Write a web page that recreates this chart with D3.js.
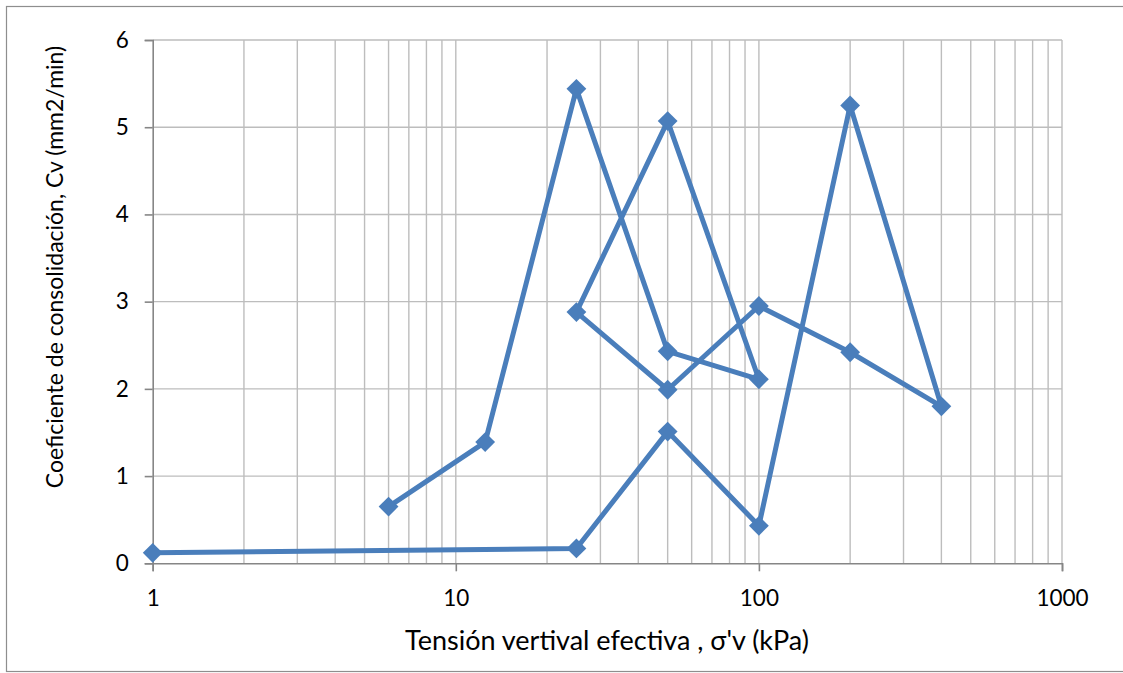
<!DOCTYPE html>
<html>
<head>
<meta charset="utf-8">
<script src="https://cdn.jsdelivr.net/npm/d3@7"></script>
<style>
  html, body { margin: 0; padding: 0; background: #fff; }
  svg { display: block; }
  text { font-family: Lato, "Open Sans", sans-serif; fill: #000; }
</style>
</head>
<body>
<svg id="chart" width="1123" height="673"></svg>
<script>
// Consolidation test readings, in the order they were taken
const stress = [1, 25, 50, 100, 200, 400, 200, 100, 50, 25, 50, 100, 50, 25, 12.5, 6];
const cv = [0.12, 0.17, 1.51, 0.43, 5.25, 1.80, 2.42, 2.95, 1.99, 2.88, 5.07, 2.11, 2.43, 5.44, 1.39, 0.65];
const xTickValues = [1, 10, 100, 1000];
const yTickValues = [0, 1, 2, 3, 4, 5, 6];
const xTitle = "Tensión vertival efectiva , σ'v (kPa)";
const yTitle = "Coeficiente de consolidación, Cv (mm2/min)";

const points = stress.map((s, i) => ({ x: s, y: cv[i] }));

const svg = d3.select("#chart");
const plot = { left: 152.7, right: 1062, top: 40, bottom: 563.3 };

// Chart frame
svg.append("rect")
  .attr("x", 6.5).attr("y", 6.5)
  .attr("width", 1122).attr("height", 665)
  .attr("fill", "none").attr("stroke", "#8e8e8e").attr("stroke-width", 1.2);

const x = d3.scaleLog().domain([1, 1000]).range([plot.left, plot.right]);
const y = d3.scaleLinear().domain([0, 6]).range([plot.bottom, plot.top]);

// Minor + major vertical gridlines (log decades)
const xGrid = [];
for (let d = 1; d < 1000; d *= 10) for (let k = 1; k <= 10; k++) xGrid.push(d * k);
const gridColor = "#bdbdbd";
svg.append("g").selectAll("line").data(Array.from(new Set(xGrid)).filter(v => v > 1)).join("line")
  .attr("x1", d => x(d)).attr("x2", d => x(d))
  .attr("y1", plot.top).attr("y2", plot.bottom)
  .attr("stroke", gridColor).attr("stroke-width", 1.4);

// Horizontal gridlines
svg.append("g").selectAll("line").data(yTickValues.filter(v => v > 0)).join("line")
  .attr("x1", plot.left).attr("x2", plot.right)
  .attr("y1", d => y(d)).attr("y2", d => y(d))
  .attr("stroke", gridColor).attr("stroke-width", 1.4);

// Axes
const axisColor = "#868686";
const xAxis = svg.append("g")
  .attr("transform", `translate(0,${plot.bottom})`)
  .call(d3.axisBottom(x).tickValues(xTickValues).tickFormat(d3.format("d")).tickSize(8).tickPadding(19));
const yAxis = svg.append("g")
  .attr("transform", `translate(${plot.left},0)`)
  .call(d3.axisLeft(y).tickValues(yTickValues).tickFormat(d3.format("d")).tickSize(8).tickPadding(16));
[xAxis, yAxis].forEach(g => {
  g.select(".domain").attr("stroke", axisColor).attr("stroke-width", 1.6);
  g.selectAll(".tick line").attr("stroke", axisColor).attr("stroke-width", 1.6);
  g.selectAll(".tick text").style("font-size", "22.5px").attr("fill", "#000");
});

// Series line
svg.append("path")
  .datum(points)
  .attr("fill", "none")
  .attr("stroke", "#4a7ebb")
  .attr("stroke-width", 5)
  .attr("stroke-linejoin", "round")
  .attr("d", d3.line().x(d => x(d.x)).y(d => y(d.y)));

// Diamond markers
svg.append("g").selectAll("path").data(points).join("path")
  .attr("transform", d => `translate(${x(d.x)},${y(d.y)}) rotate(45)`)
  .attr("d", "M-7,-7H7V7H-7Z")
  .attr("fill", "#4a7ebb");

// Axis titles
svg.append("text")
  .attr("x", 607).attr("y", 650)
  .attr("text-anchor", "middle")
  .style("font-size", "27px")
  .text(xTitle);

svg.append("text")
  .attr("transform", `translate(63,267) rotate(-90)`)
  .attr("text-anchor", "middle")
  .style("font-size", "23px")
  .text(yTitle);
</script>
</body>
</html>
